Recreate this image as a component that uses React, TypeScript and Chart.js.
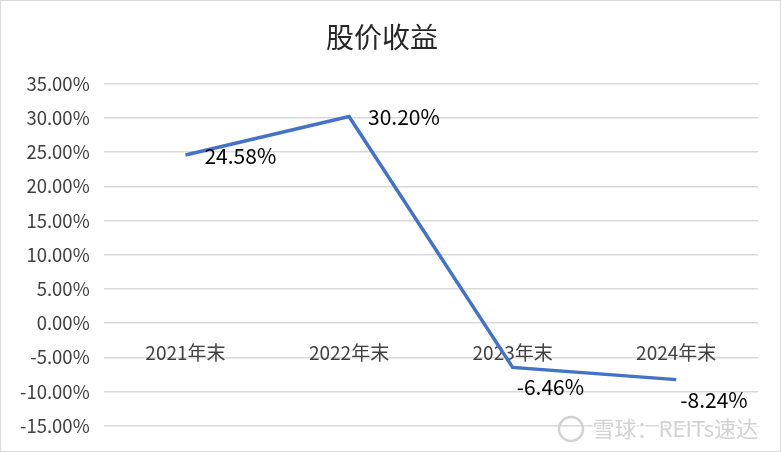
import { Chart, registerables } from "chart.js";
import React, { useEffect, useRef } from "react";

Chart.register(...registerables);

const categories = ["2021年末", "2022年末", "2023年末", "2024年末"];
const returns = [24.58, 30.2, -6.46, -8.24];
const chartTitle = "股价收益";
const watermark = "雪球：REITs速达";

const FONT = "'Noto Sans CJK SC', 'Open Sans', sans-serif";

const App = () => {
  const chartRef = useRef<HTMLCanvasElement>(null);

  useEffect(() => {
    document.body.style.margin = "0";
    const ctx = chartRef.current?.getContext("2d");
    if (!ctx) return;

    const lineChart = new Chart(ctx, {
      type: "line",
      data: {
        labels: categories,
        datasets: [
          {
            data: returns,
            borderColor: "#4472C4",
            borderWidth: 3.5,
            pointRadius: 0,
            tension: 0,
          },
        ],
      },
      options: {
        animation: false,
        responsive: false,
        layout: {
          padding: { left: 5, right: 22, top: 0, bottom: 21 },
        },
        scales: {
          x: {
            position: { y: 0 },
            offset: true,
            grid: { display: false },
            border: { display: false },
            ticks: {
              color: "#404040",
              font: { family: FONT, size: 19 },
              padding: 10,
              maxRotation: 0,
            },
          },
          y: {
            min: -15,
            max: 35,
            border: { display: false },
            grid: { color: "#d9d9d9", lineWidth: 1.5, drawTicks: false },
            ticks: {
              stepSize: 5,
              color: "#404040",
              font: { family: FONT, size: 18.5 },
              padding: 14,
              callback: (v) => Number(v).toFixed(2) + "%",
            },
          },
        },
        plugins: {
          legend: { display: false },
          tooltip: { enabled: false },
          title: {
            display: true,
            text: chartTitle,
            color: "#262626",
            font: { family: FONT, size: 28, weight: "normal" },
            padding: { top: 20, bottom: 29 },
          },
        },
      },
      plugins: [
        {
          // value labels next to each point
          id: "dataLabels",
          afterDatasetsDraw: (chart) => {
            const c = chart.ctx;
            const meta = chart.getDatasetMeta(0);
            c.save();
            c.font = `21px ${FONT}`;
            c.fillStyle = "#000000";
            c.textBaseline = "middle";
            c.textAlign = "left";
            meta.data.forEach((pt, i) => {
              const v = returns[i];
              const dy = v < 0 ? 20 : 1;
              const dx = v < 0 ? 4 : 19;
              c.fillText(v.toFixed(2) + "%", pt.x + dx, pt.y + dy);
            });
            c.restore();
          },
        },
        {
          id: "watermark",
          afterDraw: (chart) => {
            const c = chart.ctx;
            c.save();
            c.font = `22px ${FONT}`;
            c.textBaseline = "middle";
            c.textAlign = "right";
            c.lineWidth = 3;
            c.strokeStyle = "rgba(255,255,255,0.9)";
            c.strokeText(watermark, 757, 428);
            c.fillStyle = "rgba(205,205,205,0.9)";
            c.fillText(watermark, 757, 428);
            c.beginPath();
            c.arc(570, 428, 12, 0, Math.PI * 2);
            c.lineWidth = 2.5;
            c.strokeStyle = "rgba(205,205,205,0.9)";
            c.stroke();
            c.restore();
          },
        },
      ],
    });

    return () => {
      lineChart.destroy();
    };
  }, []);

  return (
    <div
      style={{
        width: 781,
        height: 452,
        boxSizing: "border-box",
        border: "1px solid #d9d9d9",
        background: "#fff",
      }}
    >
      <canvas ref={chartRef} width="779" height="450"></canvas>
    </div>
  );
};

export default App;
